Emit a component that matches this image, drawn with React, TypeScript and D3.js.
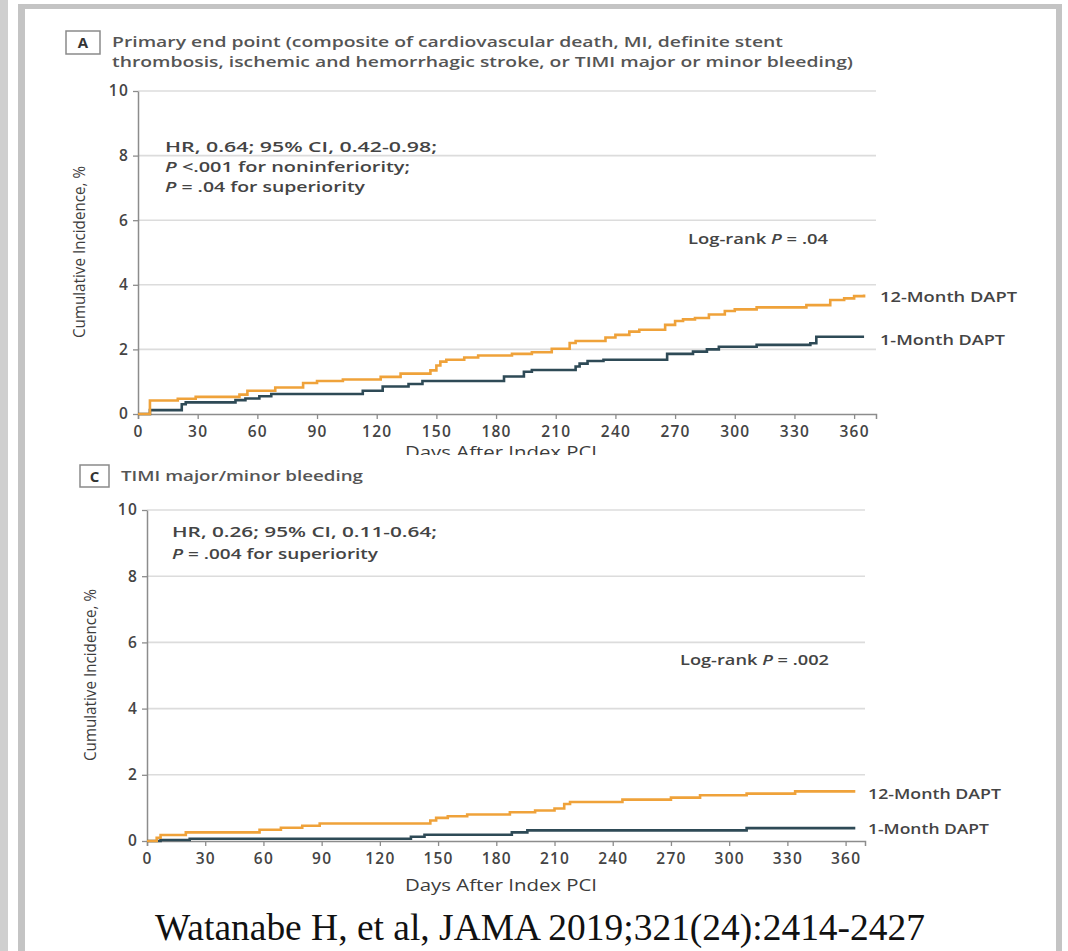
import React, { useEffect, useRef } from "react";
import * as d3 from "d3";

type Pt = [number, number];

// Axis ticks shared by both panels
const dayTicks = [0, 30, 60, 90, 120, 150, 180, 210, 240, 270, 300, 330, 360];
const pctTicks = [0, 2, 4, 6, 8, 10];

const seriesNames = ["12-Month DAPT", "1-Month DAPT"];

// Panel A: primary end point, cumulative incidence (%) by day after index PCI
const primaryTwelveMonth: Pt[] = [
  [0, 0], [6, 0.42], [20, 0.47], [29, 0.53], [51, 0.6], [55, 0.72], [69, 0.82],
  [83, 0.96], [90, 1.02], [103, 1.07], [122, 1.15], [132, 1.25], [147, 1.35],
  [150, 1.5], [152, 1.62], [155, 1.68], [164, 1.75], [171, 1.81], [188, 1.86],
  [198, 1.91], [208, 2.02], [217, 2.2], [220, 2.26], [235, 2.37], [240, 2.45],
  [247, 2.55], [252, 2.61], [265, 2.76], [270, 2.88], [274, 2.93], [280, 2.97],
  [287, 3.08], [295, 3.19], [300, 3.24], [311, 3.3], [336, 3.37], [348, 3.53],
  [355, 3.58], [360, 3.65], [365, 3.7],
];
const primaryOneMonth: Pt[] = [
  [0, 0], [6, 0.12], [22, 0.3], [24, 0.36], [49, 0.43], [54, 0.48], [61, 0.55],
  [67, 0.62], [113, 0.72], [123, 0.85], [136, 0.93], [143, 1.02], [184, 1.16],
  [194, 1.31], [198, 1.36], [220, 1.47], [222, 1.56], [226, 1.64], [234, 1.68],
  [266, 1.86], [279, 1.93], [286, 2.0], [292, 2.08], [311, 2.14], [338, 2.19],
  [341, 2.39], [365, 2.39],
];

// Panel C: TIMI major/minor bleeding
const bleedingTwelveMonth: Pt[] = [
  [0, 0], [5, 0.1], [7, 0.18], [20, 0.26], [58, 0.34], [69, 0.4], [80, 0.46],
  [89, 0.53], [146, 0.62], [149, 0.7], [155, 0.75], [165, 0.8], [187, 0.87],
  [200, 0.92], [210, 0.98], [215, 1.12], [218, 1.18], [245, 1.25], [270, 1.31],
  [285, 1.38], [309, 1.43], [334, 1.5], [365, 1.5],
];
const bleedingOneMonth: Pt[] = [
  [0, 0], [7, 0.03], [22, 0.07], [136, 0.13], [143, 0.19], [188, 0.26],
  [196, 0.32], [309, 0.39], [365, 0.39],
];

const primaryTitle = [
  "Primary end point (composite of cardiovascular death, MI, definite stent",
  "thrombosis, ischemic and hemorrhagic stroke, or TIMI major or minor bleeding)",
];
const bleedingTitle = ["TIMI major/minor bleeding"];

// Statistic lines: [italic prefix, rest]
const primaryStats: [string, string][] = [
  ["", "HR, 0.64; 95% CI, 0.42-0.98;"],
  ["P", " <.001 for noninferiority;"],
  ["P", " = .04 for superiority"],
];
const bleedingStats: [string, string][] = [
  ["", "HR, 0.26; 95% CI, 0.11-0.64;"],
  ["P", " = .004 for superiority"],
];
const primaryLogRank = ".04";
const bleedingLogRank = ".002";

const yTitle = "Cumulative Incidence, %";
const xTitle = "Days After Index PCI";
const citation = "Watanabe H, et al, JAMA 2019;321(24):2414-2427";

const FONT = "'Open Sans', 'Noto Sans', sans-serif";
const TEXT = "#3c3c3c";
const ORANGE = "#EFA23A";
const TEAL = "#2E4A56";

interface PanelSpec {
  letter: string;
  box: [number, number, number, number];
  title: string[];
  titleX: number;
  titleBase: number[];
  titleLen: number[];
  left: number;
  right: number;
  dayMax: number;
  bottom: number;
  top: number;
  stats: [string, string][];
  statsX: number;
  statsBase: number[];
  statsLen: number[];
  logRank: string;
  logRankPos: [number, number, number];
  series: Pt[][];
  labelX: number;
  labelBase: number[];
  labelLen: number[];
  yTitlePos: [number, number];
  xTitleBase: number;
  clipBottom?: number;
}

const panels: PanelSpec[] = [
  {
    letter: "A",
    box: [66, 31, 34, 23],
    title: primaryTitle,
    titleX: 112,
    titleBase: [47, 66.5],
    titleLen: [671, 741],
    left: 138,
    right: 876,
    dayMax: 371,
    bottom: 414,
    top: 91,
    stats: primaryStats,
    statsX: 165,
    statsBase: [151.5, 171.5, 191.5],
    statsLen: [272, 245, 200],
    logRank: primaryLogRank,
    logRankPos: [688, 243.5, 140],
    series: [primaryTwelveMonth, primaryOneMonth],
    labelX: 880,
    labelBase: [301.5, 344.5],
    labelLen: [137, 125],
    yTitlePos: [78, 252],
    xTitleBase: 458,
    clipBottom: 455,
  },
  {
    letter: "C",
    box: [80, 465, 29, 22],
    title: bleedingTitle,
    titleX: 121,
    titleBase: [480.5],
    titleLen: [242],
    left: 147,
    right: 865,
    dayMax: 370,
    bottom: 841,
    top: 510,
    stats: bleedingStats,
    statsX: 172,
    statsBase: [536.5, 558.5],
    statsLen: [265, 206],
    logRank: bleedingLogRank,
    logRankPos: [680, 664.5, 149],
    series: [bleedingTwelveMonth, bleedingOneMonth],
    labelX: 868,
    labelBase: [798.5, 833.5],
    labelLen: [133, 121],
    yTitlePos: [89, 675],
    xTitleBase: 890.5,
  },
];

function drawPanel(
  root: d3.Selection<SVGSVGElement, unknown, null, undefined>,
  p: PanelSpec,
  idx: number
) {
  const g = root.append("g");
  if (p.clipBottom !== undefined) {
    const id = `panel-clip-${idx}`;
    root
      .append("defs")
      .append("clipPath")
      .attr("id", id)
      .append("rect")
      .attr("x", 0)
      .attr("y", 0)
      .attr("width", 1068)
      .attr("height", p.clipBottom);
    g.attr("clip-path", `url(#${id})`);
  }

  const x = d3.scaleLinear().domain([0, p.dayMax]).range([p.left, p.right]);
  const y = d3.scaleLinear().domain([0, 10]).range([p.bottom, p.top]);

  // letter badge and heading
  g.append("rect")
    .attr("x", p.box[0])
    .attr("y", p.box[1])
    .attr("width", p.box[2])
    .attr("height", p.box[3])
    .attr("fill", "#fff")
    .attr("stroke", "#8a8a8a")
    .attr("stroke-width", 1.5);
  g.append("text")
    .attr("x", p.box[0] + p.box[2] / 2)
    .attr("y", p.box[1] + p.box[3] / 2 + 5.5)
    .attr("text-anchor", "middle")
    .attr("font-family", FONT)
    .attr("font-weight", 700)
    .attr("font-size", 15)
    .attr("fill", "#333")
    .text(p.letter);
  p.title.forEach((t, i) => {
    g.append("text")
      .attr("x", p.titleX)
      .attr("y", p.titleBase[i])
      .attr("font-family", FONT)
      .attr("font-size", 14.5)
      .attr("font-weight", 600)
      .attr("fill", "#555")
      .attr("textLength", p.titleLen[i])
      .attr("lengthAdjust", "spacingAndGlyphs")
      .text(t);
  });

  // horizontal gridlines
  g.append("g")
    .selectAll("line")
    .data(pctTicks.filter((v) => v > 0))
    .join("line")
    .attr("x1", x(0))
    .attr("x2", x(p.dayMax))
    .attr("y1", (d) => y(d))
    .attr("y2", (d) => y(d))
    .attr("stroke", "#dcdcdc")
    .attr("stroke-width", 1.6);

  const styleAxis = (sel: d3.Selection<SVGGElement, unknown, null, undefined>) => {
    sel.select(".domain").attr("stroke", "#8c8c8c").attr("stroke-width", 1.5);
    sel.selectAll(".tick line").attr("stroke", "#8c8c8c").attr("stroke-width", 1.3);
    sel
      .selectAll(".tick text")
      .attr("fill", "#444")
      .attr("font-family", FONT)
      .attr("font-size", 15.5)
      .attr("font-weight", 600)
      .attr("letter-spacing", 1.2);
  };

  const xAxis = d3
    .axisBottom(x)
    .tickValues(dayTicks)
    .tickSize(5)
    .tickSizeOuter(5)
    .tickPadding(7)
    .tickFormat(d3.format("d"));
  const xg = g.append("g").attr("transform", `translate(0,${y(0)})`).call(xAxis);
  styleAxis(xg);

  const yAxis = d3
    .axisLeft(y)
    .tickValues(pctTicks)
    .tickSize(5)
    .tickSizeOuter(0)
    .tickPadding(4)
    .tickFormat(d3.format("d"));
  const yg = g.append("g").attr("transform", `translate(${x(0)},0)`).call(yAxis);
  styleAxis(yg);
  yg.attr("font-size", null);
  xg.attr("font-size", null);

  // axis titles
  g.append("text")
    .attr("transform", `translate(${p.yTitlePos[0]},${p.yTitlePos[1]}) rotate(-90)`)
    .attr("text-anchor", "middle")
    .attr("dominant-baseline", "central")
    .attr("font-family", FONT)
    .attr("font-size", 17)
    .attr("fill", TEXT)
    .attr("textLength", 172)
    .attr("lengthAdjust", "spacingAndGlyphs")
    .text(yTitle);
  g.append("text")
    .attr("x", 405)
    .attr("y", p.xTitleBase)
    .attr("font-family", FONT)
    .attr("font-size", 16)
    .attr("fill", TEXT)
    .attr("textLength", 192)
    .attr("lengthAdjust", "spacingAndGlyphs")
    .text(xTitle);

  // step curves
  const line = d3
    .line<Pt>()
    .x((d) => x(d[0]))
    .y((d) => y(d[1]))
    .curve(d3.curveStepAfter);
  const colors = [ORANGE, TEAL];
  [1, 0].forEach((i) => {
    g.append("path")
      .datum(p.series[i])
      .attr("d", line)
      .attr("fill", "none")
      .attr("stroke", colors[i])
      .attr("stroke-width", 2.6)
      .attr("stroke-linejoin", "miter");
  });

  // series labels at curve ends
  seriesNames.forEach((name, i) => {
    g.append("text")
      .attr("x", p.labelX)
      .attr("y", p.labelBase[i])
      .attr("font-family", FONT)
      .attr("font-size", 14.5)
      .attr("font-weight", 600)
      .attr("fill", "#444")
      .attr("textLength", p.labelLen[i])
      .attr("lengthAdjust", "spacingAndGlyphs")
      .text(name);
  });

  // statistics block
  p.stats.forEach(([ital, rest], i) => {
    const t = g
      .append("text")
      .attr("x", p.statsX)
      .attr("y", p.statsBase[i])
      .attr("font-family", FONT)
      .attr("font-size", 15)
      .attr("font-weight", 600)
      .attr("fill", "#444")
      .attr("textLength", p.statsLen[i])
      .attr("lengthAdjust", "spacingAndGlyphs");
    if (ital) t.append("tspan").attr("font-style", "italic").text(ital);
    t.append("tspan").text(rest);
  });

  const lr = g
    .append("text")
    .attr("x", p.logRankPos[0])
    .attr("y", p.logRankPos[1])
    .attr("font-family", FONT)
    .attr("font-size", 14.5)
    .attr("font-weight", 600)
    .attr("fill", "#444")
    .attr("textLength", p.logRankPos[2])
    .attr("lengthAdjust", "spacingAndGlyphs");
  lr.append("tspan").text("Log-rank ");
  lr.append("tspan").attr("font-style", "italic").text("P");
  lr.append("tspan").text(` = ${p.logRank}`);
}

export default function App() {
  const ref = useRef<SVGSVGElement | null>(null);

  useEffect(() => {
    if (!ref.current) return;
    const svg = d3.select(ref.current);
    svg.selectAll("*").remove();

    svg.append("rect").attr("width", 1068).attr("height", 951).attr("fill", "#fff");

    // page frame bands
    const frame = svg.append("g").attr("fill", "#c4c4c4");
    frame.append("rect").attr("x", 0).attr("y", 0).attr("width", 8).attr("height", 951).attr("fill", "#cfcfcf");
    frame.append("rect").attr("x", 18).attr("y", 4).attr("width", 7).attr("height", 947);
    frame.append("rect").attr("x", 18).attr("y", 4).attr("width", 1043).attr("height", 5);
    frame.append("rect").attr("x", 1056).attr("y", 4).attr("width", 6).attr("height", 947);

    panels.forEach((p, i) => drawPanel(svg, p, i));

    svg
      .append("text")
      .attr("x", 155)
      .attr("y", 940)
      .attr("font-family", "'Liberation Serif', 'Times New Roman', serif")
      .attr("font-size", 38)
      .attr("fill", "#111")
      .attr("textLength", 770)
      .attr("lengthAdjust", "spacingAndGlyphs")
      .text(citation);
  }, []);

  return (
    <div style={{ position: "absolute", left: 0, top: 0 }}>
      <svg ref={ref} width={1068} height={951} style={{ display: "block" }} />
    </div>
  );
}
